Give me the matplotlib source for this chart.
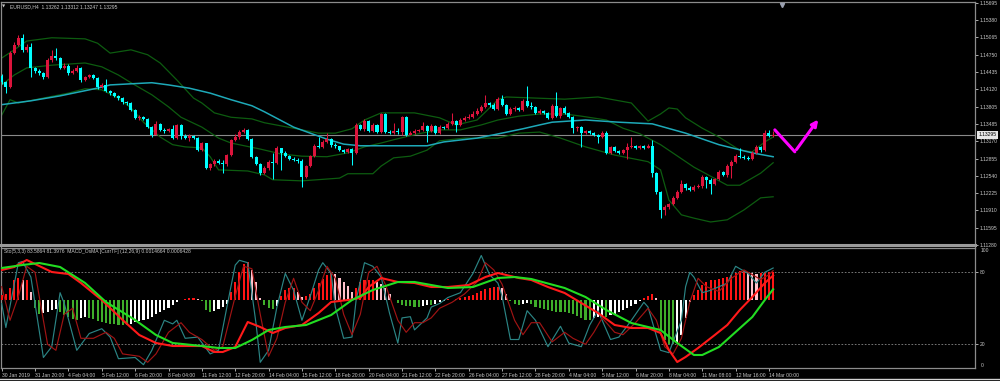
import numpy as np
import matplotlib
matplotlib.use("Agg")
import matplotlib.pyplot as plt
import matplotlib.transforms as mtransforms
from matplotlib.lines import Line2D
from matplotlib.patches import FancyArrowPatch

plt.rcParams['font.family'] = ['Liberation Sans', 'DejaVu Sans']

# ---------------- data ----------------
OPEN0 = 1.1436
CLOSE = [1.1425, 1.1416, 1.1478, 1.1493, 1.1506, 1.1484, 1.1489, 1.1451, 1.1445, 1.1442,
         1.1434, 1.1466, 1.1473, 1.1469, 1.1451, 1.1455, 1.1442, 1.1445, 1.1451, 1.1429,
         1.1434, 1.1438, 1.1433, 1.1416, 1.1420, 1.1409, 1.1405, 1.1400, 1.1396, 1.1389,
         1.1387, 1.1374, 1.1360, 1.1361, 1.1358, 1.1343, 1.1329, 1.1349, 1.1338, 1.1336,
         1.1340, 1.1323, 1.1347, 1.1327, 1.1323, 1.1327, 1.1323, 1.1301, 1.1314, 1.1269,
         1.1276, 1.1281, 1.1278, 1.1276, 1.1292, 1.1320, 1.1325, 1.1334, 1.1338, 1.1321,
         1.1289, 1.1276, 1.1259, 1.1269, 1.1280, 1.1278, 1.1305, 1.1296, 1.1290, 1.1285,
         1.1283, 1.1281, 1.1252, 1.1272, 1.1290, 1.1309, 1.1307, 1.1316, 1.1321, 1.1311,
         1.1309, 1.1301, 1.1298, 1.1303, 1.1296, 1.1347, 1.1340, 1.1354, 1.1336, 1.1347,
         1.1334, 1.1367, 1.1334, 1.1332, 1.1336, 1.1334, 1.1361, 1.1329, 1.1332, 1.1336,
         1.1338, 1.1345, 1.1336, 1.1345, 1.1332, 1.1343, 1.1341, 1.1349, 1.1354, 1.1347,
         1.1356, 1.1360, 1.1361, 1.1367, 1.1372, 1.1380, 1.1387, 1.1384, 1.1376, 1.1394,
         1.1384, 1.1367, 1.1376, 1.1378, 1.1374, 1.1391, 1.1382, 1.1380, 1.1369, 1.1372,
         1.1369, 1.1360, 1.1382, 1.1363, 1.1378, 1.1369, 1.1361, 1.1341, 1.1343, 1.1332,
         1.1336, 1.1332, 1.1329, 1.1325, 1.1332, 1.1296, 1.1307, 1.1300, 1.1296, 1.1301,
         1.1307, 1.1309, 1.1305, 1.1309, 1.1305, 1.1309, 1.1259, 1.1225, 1.1192, 1.1197,
         1.1203, 1.1214, 1.1225, 1.1239, 1.1232, 1.1228, 1.1234, 1.1236, 1.1252, 1.1247,
         1.1239, 1.1248, 1.1261, 1.1256, 1.1272, 1.1280, 1.1290, 1.1289, 1.1287, 1.1285,
         1.1296, 1.1307, 1.1301, 1.1332, 1.1327, 1.13295]
HIGH = [1.1440, 1.1427, 1.1482, 1.1498, 1.1511, 1.1513, 1.1495, 1.1496, 1.1453, 1.1449,
        1.1444, 1.1469, 1.1484, 1.1487, 1.1471, 1.1460, 1.1458, 1.1449, 1.1456, 1.1453,
        1.1436, 1.1440, 1.1440, 1.1434, 1.1424, 1.1431, 1.1411, 1.1407, 1.1402, 1.1398,
        1.1391, 1.1389, 1.1376, 1.1365, 1.1363, 1.1360, 1.1345, 1.1354, 1.1351, 1.1341,
        1.1341, 1.1347, 1.1349, 1.1349, 1.1331, 1.1331, 1.1329, 1.1325, 1.1316, 1.1314,
        1.1278, 1.1285, 1.1285, 1.1283, 1.1294, 1.1321, 1.1331, 1.1338, 1.1341, 1.1340,
        1.1323, 1.1290, 1.1278, 1.1272, 1.1283, 1.1296, 1.1309, 1.1305, 1.1300, 1.1292,
        1.1289, 1.1287, 1.1285, 1.1274, 1.1292, 1.1312, 1.1325, 1.1320, 1.1332, 1.1323,
        1.1314, 1.1309, 1.1303, 1.1305, 1.1305, 1.1351, 1.1349, 1.1358, 1.1356, 1.1351,
        1.1349, 1.1369, 1.1369, 1.1338, 1.1351, 1.1341, 1.1363, 1.1363, 1.1336, 1.1340,
        1.1340, 1.1352, 1.1347, 1.1349, 1.1347, 1.1347, 1.1345, 1.1352, 1.1369, 1.1356,
        1.1360, 1.1363, 1.1367, 1.1372, 1.1378, 1.1384, 1.1402, 1.1389, 1.1387, 1.1398,
        1.1402, 1.1385, 1.1380, 1.1382, 1.1380, 1.1394, 1.1418, 1.1389, 1.1382, 1.1376,
        1.1374, 1.1371, 1.1385, 1.1407, 1.1380, 1.1382, 1.1371, 1.1363, 1.1345, 1.1345,
        1.1338, 1.1338, 1.1334, 1.1331, 1.1336, 1.1336, 1.1309, 1.1309, 1.1301, 1.1303,
        1.1314, 1.1325, 1.1311, 1.1311, 1.1311, 1.1312, 1.1320, 1.1261, 1.1226, 1.1201,
        1.1205, 1.1217, 1.1228, 1.1247, 1.1241, 1.1236, 1.1237, 1.1239, 1.1256, 1.1254,
        1.1250, 1.1250, 1.1265, 1.1263, 1.1276, 1.1283, 1.1294, 1.1305, 1.1292, 1.1290,
        1.1300, 1.1311, 1.1309, 1.1338, 1.1338, 1.1336]
LOW = [1.1422, 1.1405, 1.1414, 1.1476, 1.1491, 1.1480, 1.1480, 1.1434, 1.1442, 1.1438,
       1.1431, 1.1433, 1.1462, 1.1466, 1.1449, 1.1449, 1.1438, 1.1440, 1.1444, 1.1425,
       1.1427, 1.1433, 1.1431, 1.1413, 1.1414, 1.1407, 1.1402, 1.1398, 1.1393, 1.1385,
       1.1384, 1.1372, 1.1358, 1.1356, 1.1356, 1.1341, 1.1325, 1.1329, 1.1336, 1.1332,
       1.1334, 1.1321, 1.1321, 1.1321, 1.1321, 1.1318, 1.1321, 1.1300, 1.1300, 1.1267,
       1.1265, 1.1272, 1.1276, 1.1259, 1.1272, 1.1290, 1.1318, 1.1321, 1.1332, 1.1320,
       1.1287, 1.1274, 1.1256, 1.1258, 1.1265, 1.1248, 1.1276, 1.1265, 1.1289, 1.1283,
       1.1281, 1.1278, 1.1234, 1.1250, 1.1270, 1.1289, 1.1305, 1.1305, 1.1314, 1.1307,
       1.1305, 1.1300, 1.1296, 1.1296, 1.1274, 1.1294, 1.1338, 1.1336, 1.1334, 1.1334,
       1.1332, 1.1332, 1.1332, 1.1331, 1.1331, 1.1331, 1.1329, 1.1327, 1.1329, 1.1331,
       1.1334, 1.1336, 1.1316, 1.1334, 1.1331, 1.1331, 1.1340, 1.1340, 1.1347, 1.1334,
       1.1345, 1.1354, 1.1358, 1.1360, 1.1365, 1.1371, 1.1378, 1.1380, 1.1374, 1.1374,
       1.1382, 1.1365, 1.1365, 1.1372, 1.1372, 1.1372, 1.1380, 1.1376, 1.1367, 1.1367,
       1.1367, 1.1358, 1.1358, 1.1361, 1.1360, 1.1367, 1.1360, 1.1332, 1.1336, 1.1307,
       1.1331, 1.1331, 1.1327, 1.1314, 1.1323, 1.1294, 1.1294, 1.1298, 1.1294, 1.1294,
       1.1285, 1.1305, 1.1303, 1.1303, 1.1303, 1.1305, 1.1252, 1.1221, 1.1177, 1.1183,
       1.1194, 1.1201, 1.1212, 1.1223, 1.1228, 1.1226, 1.1226, 1.1232, 1.1232, 1.1232,
       1.1221, 1.1237, 1.1247, 1.1254, 1.1252, 1.1250, 1.1278, 1.1287, 1.1285, 1.1283,
       1.1283, 1.1294, 1.1298, 1.1300, 1.1325, 1.1325]

UPPER_BARS = [0, 3, 6, 12, 20, 23, 26, 31, 35, 38, 42, 46, 48, 51, 55, 60, 63, 70, 76, 80,
              84, 87, 91, 99, 105, 109, 114, 117, 119, 121, 135, 143, 151, 155, 158, 160,
              162, 164, 168, 172, 177, 180, 183, 185]
UPPER = [1.1469, 1.1484, 1.1500, 1.1506, 1.1504, 1.1496, 1.1478, 1.1484, 1.1475, 1.1460,
         1.1429, 1.1396, 1.1387, 1.1369, 1.1361, 1.1358, 1.1351, 1.1341, 1.1332, 1.1332,
         1.1340, 1.1356, 1.1369, 1.1369, 1.1360, 1.1347, 1.1356, 1.1378, 1.1393, 1.1398,
         1.1394, 1.1398, 1.1387, 1.1354, 1.1367, 1.1378, 1.1376, 1.1360, 1.1341, 1.1325,
         1.1301, 1.1298, 1.1316, 1.1325]
MIDDLE_BARS = [0, 3, 6, 12, 20, 24, 28, 31, 36, 40, 43, 48, 52, 55, 62, 67, 72, 78, 83, 87,
               91, 94, 100, 105, 110, 115, 119, 124, 129, 135, 139, 145, 149, 153, 158, 166,
               174, 177, 182, 185]
MIDDLE = [1.1420, 1.1438, 1.1451, 1.1456, 1.1460, 1.1453, 1.1438, 1.1424, 1.1402, 1.1380,
          1.1361, 1.1343, 1.1323, 1.1314, 1.1303, 1.1294, 1.1290, 1.1289, 1.1296, 1.1307,
          1.1314, 1.1320, 1.1331, 1.1338, 1.1338, 1.1347, 1.1356, 1.1363, 1.1367, 1.1367,
          1.1363, 1.1356, 1.1341, 1.1331, 1.1311, 1.1270, 1.1237, 1.1237, 1.1259, 1.1278]
LOWER_BARS = [0, 2, 4, 8, 16, 20, 24, 28, 31, 34, 38, 41, 44, 48, 50, 52, 59, 63, 65, 72,
              81, 83, 89, 91, 94, 98, 102, 105, 111, 119, 124, 129, 134, 140, 147, 155, 158,
              160, 163, 166, 170, 174, 178, 182, 185]
LOWER = [1.1365, 1.1393, 1.1387, 1.1393, 1.1405, 1.1413, 1.1411, 1.1396, 1.1378, 1.1352,
         1.1325, 1.1311, 1.1307, 1.1305, 1.1289, 1.1265, 1.1263, 1.1256, 1.1247, 1.1245,
         1.1250, 1.1258, 1.1258, 1.1272, 1.1287, 1.1290, 1.1301, 1.1318, 1.1323, 1.1323,
         1.1332, 1.1334, 1.1323, 1.1307, 1.1292, 1.1280, 1.1265, 1.1210, 1.1183, 1.1177,
         1.1170, 1.1174, 1.1192, 1.1214, 1.1216]
MA_BARS = [0, 7, 14, 21, 24, 26, 31, 36, 40, 45, 50, 55, 60, 63, 70, 74, 78, 82, 86, 94,
           102, 106, 114, 118, 125, 129, 132, 140, 148, 156, 164, 172, 180, 185]
MA = [1.1384, 1.1391, 1.1400, 1.1411, 1.1416, 1.1420, 1.1422, 1.1424, 1.1420, 1.1414,
      1.1405, 1.1393, 1.1382, 1.1371, 1.1343, 1.1332, 1.1321, 1.1312, 1.1309, 1.1309,
      1.1309, 1.1316, 1.1323, 1.1329, 1.1340, 1.1347, 1.1352, 1.1356, 1.1352, 1.1349,
      1.1332, 1.1311, 1.1296, 1.1289]

CURRENT_PRICE = 1.13295
PRICE_TICKS = [1.15695, 1.15380, 1.15065, 1.14750, 1.14435, 1.14120, 1.13805, 1.13485,
               1.13170, 1.12855, 1.12540, 1.12225, 1.11910, 1.11595, 1.11280]
DATE_TICKS = [0, 8, 16, 24, 32, 40, 48, 56, 64, 72, 80, 88, 96, 104, 112, 120, 128, 136,
              144, 152, 160, 168, 176, 184]
DATE_LABELS = ["30 Jan 2019", "31 Jan 20:00", "4 Feb 04:00", "5 Feb 12:00", "6 Feb 20:00",
               "8 Feb 04:00", "11 Feb 12:00", "12 Feb 20:00", "14 Feb 04:00", "15 Feb 12:00",
               "18 Feb 20:00", "20 Feb 04:00", "21 Feb 12:00", "22 Feb 20:00", "26 Feb 04:00",
               "27 Feb 12:00", "28 Feb 20:00", "4 Mar 04:00", "5 Mar 12:00", "6 Mar 20:00",
               "8 Mar 04:00", "11 Mar 08:00", "12 Mar 16:00", "14 Mar 00:00"]

ARROW_BARS = [185.4, 190.2, 196.2]
ARROW_PRICES = [1.1338, 1.1298, 1.1361]

STOCH_BARS = [0, 1, 4, 5, 7, 10, 12, 14, 15, 18, 21, 24, 26, 28, 32, 34, 36, 39, 41, 42,
              44, 47, 50, 52, 54, 56, 57, 59, 61, 62, 64, 66, 68, 70, 72, 74, 76, 77, 79, 80,
              82, 84, 85, 87, 89, 91, 93, 95, 96, 98, 99, 102, 103, 105, 107, 110, 113, 115,
              117, 119, 120, 122, 124, 126, 128, 131, 134, 136, 139, 141, 143, 146, 148, 151,
              154, 155, 158, 160, 163, 164, 165, 166, 168, 170, 174, 176, 179, 181, 183, 185]
STOCH_MAIN = [54, 34, 88, 89, 76, 9, 18, 63, 54, 15, 29, 33, 26, 8, 9, 3, 15, 40, 37, 40,
              25, 26, 12, 15, 51, 86, 90, 88, 37, 5, 15, 51, 79, 65, 40, 60, 82, 88, 79, 51,
              25, 26, 57, 88, 85, 76, 46, 21, 42, 43, 32, 42, 51, 54, 59, 63, 79, 94, 78, 71,
              60, 24, 24, 48, 40, 18, 35, 21, 18, 36, 48, 24, 26, 40, 55, 51, 15, 13, 40, 68,
              80, 76, 63, 65, 71, 85, 79, 71, 80, 83.59]
SIGNAL_BARS = [0, 2, 4, 6, 8, 11, 13, 15, 17, 19, 22, 25, 27, 29, 33, 35, 37, 40, 43, 45,
               48, 51, 53, 56, 58, 60, 62, 64, 66, 68, 70, 72, 74, 76, 78, 80, 82, 84, 86, 88,
               90, 92, 95, 97, 99, 101, 103, 105, 108, 111, 114, 116, 118, 120, 123, 125, 127,
               129, 132, 135, 137, 140, 142, 144, 147, 149, 152, 155, 157, 159, 161, 163, 165,
               167, 169, 172, 175, 178, 180, 182, 184, 185]
STOCH_SIGNAL = [68, 40, 60, 85, 80, 20, 15, 45, 50, 25, 25, 30, 25, 12, 10, 5, 12, 30, 38, 30,
                24, 15, 18, 60, 85, 83, 45, 10, 25, 55, 75, 55, 48, 65, 85, 75, 45, 28, 45, 80,
                85, 70, 40, 30, 38, 38, 42, 50, 55, 62, 72, 88, 82, 70, 40, 28, 38, 38, 22, 30,
                25, 20, 30, 42, 30, 28, 38, 50, 40, 18, 12, 25, 55, 75, 68, 64, 75, 82, 78, 74,
                78, 81.4]

# MACD values in units of 1e-5
MACD_BARS = [0, 3, 6, 9, 12, 16, 19, 24, 29, 33, 37, 41, 48, 51, 53, 56, 59, 62, 65, 68, 72,
             76, 79, 83, 86, 88, 91, 95, 99, 103, 107, 112, 116, 119, 124, 127, 131, 135, 139,
             143, 147, 151, 155, 158, 160, 162, 164, 167, 171, 174, 177, 180, 183, 185]
MACD_E5 = [180, 198, 240, 204, 168, 156, 102, 0, -120, -210, -258, -276, -276, -312, -312,
           -282, -132, -162, -198, -168, -150, -78, -12, 0, 12, 78, 132, 108, 102, 78, 78, 90,
           138, 162, 132, 120, 78, 42, -18, -78, -150, -168, -168, -198, -300, -372, -342,
           -288, -210, -150, -60, 18, 102, 146.6]
MACDSIG_BARS = [0, 5, 9, 14, 20, 25, 32, 37, 41, 48, 52, 56, 60, 64, 68, 73, 79, 84, 89, 95,
                99, 103, 107, 113, 119, 123, 127, 135, 140, 145, 151, 155, 158, 162, 166, 168,
                172, 176, 180, 183, 185]
MACDSIG_E5 = [192, 210, 222, 198, 102, -12, -120, -210, -258, -276, -288, -288, -240, -180,
              -162, -150, -90, 0, 60, 108, 108, 90, 72, 78, 132, 138, 126, 72, 18, -60, -138,
              -162, -180, -258, -330, -330, -282, -192, -102, 0, 64.3]
OSMA_E5 = [15, 18, 36, 60, 66, 60, 60, 24,
           -24, -42, -39, -36, -30, -27, -36, -45, -51, -57, -60, -54,
           -51, -54, -57, -63, -66, -69, -72, -72, -75, -75, -76, -72,
           -66, -63, -60, -57, -51, -42, -36, -30, -24, -15, -6, 0,
           3, 6, 6, 3, -3, -30, -36, -33, -27, -21, -12, 24,
           54, 84, 108, 114, 90, 54, 6, -15, -24, -27, -18, 12,
           30, 36, 36, 24, 9, 12, 18, 36, 51, 63, 75, 81,
           78, 66, 54, 42, 24, 36, 54, 60, 60, 60, 54, 48,
           36, 18, 0, -9, -15, -18, -18, -21, -21, -18, -15, -15,
           -12, -6, -3, 3, 0, 3, 6, 9, 12, 15, 21, 27,
           33, 36, 39, 39, 36, 18, -3, -12, -15, -12, -9, -12,
           -21, -24, -27, -30, -33, -36, -36, -36, -39, -42, -48, -54,
           -60, -60, -54, -51, -48, -51, -45, -42, -36, -30, -24, -18,
           -12, -3, 6, 12, 18, 6, -90, -120, -132, -132, -129, -105,
           -54, -6, 15, 30, 45, 54, 60, 60, 63, 66, 69, 75,
           81, 87, 87, 84, 81, 78, 81, 84, 84, 84]

# ---------------- layout ----------------
W, H = 1000, 381
BAR_PX = 4.17
BAR0_PX = 1.7
AX_LEFT_PX, AX_RIGHT_PX = 1, 975
XL = (AX_LEFT_PX - BAR0_PX) / BAR_PX
XR = (AX_RIGHT_PX - BAR0_PX) / BAR_PX

FG = '#c8c8c8'
SPINE = '#8c8c8c'
FS = 3.6

fig = plt.figure(figsize=(W / 100, H / 100), dpi=100, facecolor='black')


def fx(px):
    return px / W


def fy(py):
    return 1 - py / H


main_top, main_bot = 1.5, 245.0
low_top, low_bot = 247.5, 368.3

ax = fig.add_axes([fx(AX_LEFT_PX), fy(main_bot), fx(AX_RIGHT_PX - AX_LEFT_PX),
                   (main_bot - main_top) / H])
ax.set_facecolor('black')
ax.set_xlim(XL, XR)
ax.set_ylim(1.1128, 1.1128 + (main_bot - main_top) * 0.0001824)
for s in ax.spines.values():
    s.set_color(SPINE)
    s.set_linewidth(0.9)
ax.spines['bottom'].set_linewidth(2.2)
ax.spines['bottom'].set_color('#9a9a9a')
ax.yaxis.tick_right()
ax.set_yticks(PRICE_TICKS)
ax.set_yticklabels(['%.5f' % p for p in PRICE_TICKS])
ax.tick_params(axis='y', colors=FG, labelsize=FS, length=2, width=0.6, pad=1.5)
ax.tick_params(axis='x', bottom=False, labelbottom=False)

# current price line
ax.axhline(CURRENT_PRICE, color='#8a8a8a', lw=0.8, zorder=1)

# bands and MA
ax.plot(UPPER_BARS, UPPER, color='#0d5c10', lw=0.9, zorder=2)
ax.plot(MIDDLE_BARS, MIDDLE, color='#0d5c10', lw=0.9, zorder=2)
ax.plot(LOWER_BARS, LOWER, color='#0d5c10', lw=0.9, zorder=2)
ax.plot(MA_BARS, MA, color='#1ea9b8', lw=1.1, zorder=2)

# candles
close = np.array(CLOSE)
opens = np.concatenate([[OPEN0], close[:-1]])
high = np.array(HIGH)
low = np.array(LOW)
idx = np.arange(len(close))
bull = close > opens
ccol = np.where(bull, '#dc143c', '#00ffff')
ax.vlines(idx, low, high, colors=ccol, lw=0.75, zorder=3)
body_bot = np.minimum(opens, close)
body_h = np.maximum(np.abs(close - opens), 0.00012)
ax.bar(idx, body_h, bottom=body_bot, width=0.72, color=ccol, linewidth=0, zorder=4)

# magenta arrow
ax.plot(ARROW_BARS[:2], ARROW_PRICES[:2], color='#ff00ff', lw=2.2, solid_capstyle='round',
        zorder=5)
arr = FancyArrowPatch((ARROW_BARS[1], ARROW_PRICES[1]), (ARROW_BARS[2], ARROW_PRICES[2]),
                      arrowstyle='-|>', mutation_scale=9, color='#ff00ff', lw=2.2, zorder=5)
ax.add_patch(arr)

# current price tag
trans = mtransforms.blended_transform_factory(ax.transAxes, ax.transData)
ax.text(1.0035, CURRENT_PRICE, '%.5f' % CURRENT_PRICE, transform=trans, ha='left',
        va='center', fontsize=FS, color='black', clip_on=False, zorder=10,
        bbox=dict(boxstyle='square,pad=0.3', fc='#e6e6e6', ec='none'))

# chart shift marker
ax.plot([187.1], [0.985], marker='v', ms=3, color='#9aa0b0',
        transform=mtransforms.blended_transform_factory(ax.transData, ax.transAxes),
        clip_on=False, zorder=6)

fig.text(fx(2), fy(6.5), '\u25bc', color=FG, fontsize=3.0, va='center', ha='left',
         family=['DejaVu Sans'])
fig.text(fx(10), fy(6.5), 'EURUSD,H4  1.13262 1.13312 1.13247 1.13295', color=FG,
         fontsize=FS, va='center', ha='left')

# ---------------- lower panel ----------------
pos2 = [fx(AX_LEFT_PX), fy(low_bot), fx(AX_RIGHT_PX - AX_LEFT_PX), (low_bot - low_top) / H]
ax2 = fig.add_axes(pos2)
ax2.set_facecolor('black')
ax2.set_xlim(XL, XR)
ax2.set_ylim(0, (low_bot - low_top) / 1.2)
for s in ax2.spines.values():
    s.set_color(SPINE)
    s.set_linewidth(0.9)
ax2.axhline(80, color='#8a8a8a', lw=0.6, ls=(0, (2, 2)))
ax2.axhline(20, color='#8a8a8a', lw=0.6, ls=(0, (2, 2)))
ax2.yaxis.tick_right()
ax2.set_yticks([80, 20])
ax2.set_yticklabels(['80', '20'])
ax2.tick_params(axis='y', colors=FG, labelsize=FS, length=2, width=0.6, pad=1.5)
ax2.set_xticks(DATE_TICKS)
ax2.set_xticklabels(DATE_LABELS, ha='left')
ax2.tick_params(axis='x', colors=FG, labelsize=FS, length=2.5, width=0.6, pad=0.8)
ax2.text(1.006, 98.0, '100', transform=mtransforms.blended_transform_factory(
    ax2.transAxes, ax2.transData), color=FG, fontsize=FS, va='center', ha='left',
    clip_on=False)
ax2.text(1.006, 2.2, '0', transform=mtransforms.blended_transform_factory(
    ax2.transAxes, ax2.transData), color=FG, fontsize=FS, va='center', ha='left',
    clip_on=False)
ax2.text(0.003, 0.965, 'Sto(5,3,3) 83.5864 81.3976  MACD_OsMA [CurrTF] (12,26,9) '
         '0.0014664 0.0006428', transform=ax2.transAxes, color=FG, fontsize=FS,
         va='center', ha='left', zorder=20)

zero_px = 300.0
macd_per_px = 0.00006
osma_per_px = 0.00003

# OsMA histogram
axh = fig.add_axes(pos2, sharex=ax2)
axh.patch.set_visible(False)
axh.axis('off')
axh.set_ylim(-(low_bot - zero_px) * osma_per_px, (zero_px - low_top) * osma_per_px)
osma = np.array(OSMA_E5) * 1e-5
prev = np.concatenate([[osma[0]], osma[:-1]])
hcol = []
for v, p in zip(osma, prev):
    if v >= 0:
        hcol.append('#ff1414' if v >= p else '#ffc0cb')
    else:
        hcol.append('#3fae2a' if v <= p else '#ffffff')
axh.bar(idx, osma, width=0.5, color=hcol, linewidth=0)

# stochastic
axs = fig.add_axes(pos2, sharex=ax2)
axs.patch.set_visible(False)
axs.axis('off')
axs.set_ylim(0, (low_bot - low_top) / 1.2)
axs.plot(STOCH_BARS, STOCH_MAIN, color='#2b8585', lw=0.85)
axs.plot(SIGNAL_BARS, STOCH_SIGNAL, color='#a01414', lw=0.85)

# MACD lines
axm = fig.add_axes(pos2, sharex=ax2)
axm.patch.set_visible(False)
axm.axis('off')
axm.set_ylim(-(low_bot - zero_px) * macd_per_px, (zero_px - low_top) * macd_per_px)
axm.plot(MACD_BARS, np.array(MACD_E5) * 1e-5, color='#ff1a1a', lw=1.5)
axm.plot(MACDSIG_BARS, np.array(MACDSIG_E5) * 1e-5, color='#22dd22', lw=1.5)

for a in (axh, axs, axm):
    a.set_xlim(XL, XR)

fig.add_artist(Line2D([0, 1], [fy(379), fy(379)], color='#d0d0d0', lw=1.0,
                      transform=fig.transFigure))

fig.savefig('out.png', dpi=100, facecolor='black')
